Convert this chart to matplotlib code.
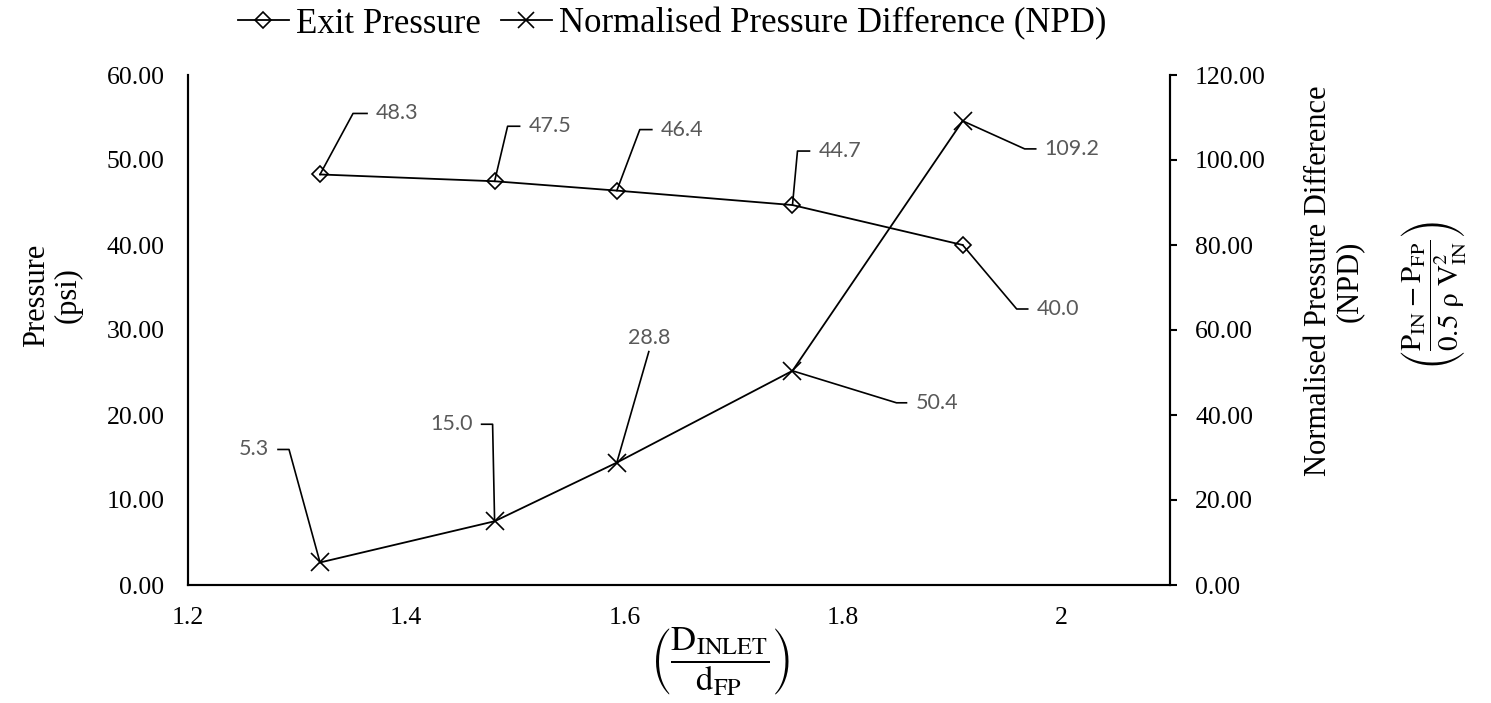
import numpy as np
import matplotlib
matplotlib.use("Agg")
import matplotlib.pyplot as plt
from matplotlib.transforms import ScaledTranslation
from matplotlib.ticker import FormatStrFormatter, FuncFormatter

plt.rcParams["font.family"] = ["Liberation Serif", "DejaVu Serif"]
plt.rcParams["mathtext.fontset"] = "stix"

# data
diameter_ratio = [1.321, 1.481, 1.593, 1.754, 1.910]
exit_pressure = [48.3, 47.5, 46.4, 44.7, 40.0]
npd = [5.3, 15.0, 28.8, 50.4, 109.2]

series_names = ["Exit Pressure", "Normalised Pressure Difference (NPD)"]
x_ticks = [1.2, 1.4, 1.6, 1.8, 2.0]
left_ticks = [0, 10, 20, 30, 40, 50, 60]
right_ticks = [0, 20, 40, 60, 80, 100, 120]

# leader line placement for each data label, in pixels: (dx, dy, tab)
exit_leaders = [(33, 61, 14), (13, 55, 12), (23, 61, 12), (5, 54, 12), (54, -64, 11)]
npd_leaders = [(-31, 113, -11), (-2, 97, -11), (32, 111, 0), (104, -32, 10), (62, -28, 11)]

W, H = 1491, 703
fig = plt.figure(figsize=(W / 100, H / 100), dpi=100)
ax = fig.add_axes([188 / W, (H - 585) / H, 982 / W, 510 / H])
ax2 = ax.twinx()

ax.set_xlim(1.2, 2.1)
ax.set_ylim(0, 60)
ax2.set_ylim(0, 120)

line_kw = dict(color="black", linewidth=1.3)
l1, = ax.plot(diameter_ratio, exit_pressure, marker="D", markersize=8.5,
              markerfacecolor="none", markeredgecolor="black", markeredgewidth=1.2,
              label=series_names[0], **line_kw)
l2, = ax2.plot(diameter_ratio, npd, marker="x", markersize=13,
               markeredgecolor="black", markeredgewidth=1.2,
               label=series_names[1], **line_kw)

for a in (ax, ax2):
    a.spines["top"].set_visible(False)
    for s in ("left", "right", "bottom"):
        a.spines[s].set_linewidth(1.5)

ax.set_xticks(x_ticks)
ax.xaxis.set_major_formatter(FuncFormatter(lambda v, p: f"{v:g}"))
ax.set_yticks(left_ticks)
ax.yaxis.set_major_formatter(FormatStrFormatter("%.2f"))
ax2.set_yticks(right_ticks)
ax2.yaxis.set_major_formatter(FormatStrFormatter("%.2f"))

ax.tick_params(axis="x", length=0, pad=16, labelsize=18.5)
ax.tick_params(axis="y", length=0, pad=17, labelsize=18.5)
ax2.tick_params(axis="y", length=5, width=1.5, direction="out", pad=13, labelsize=18.5)


def add_label(a, x, y, dx, dy, tab, text):
    tr = fig.dpi_scale_trans + ScaledTranslation(x, y, a.transData)
    k = 1 / fig.dpi
    a.plot([0, dx * k, (dx + tab) * k], [0, dy * k, dy * k], transform=tr,
           color="black", linewidth=1.2, clip_on=False, zorder=1)
    lab_kw = dict(transform=tr, fontsize=15.5, color="#595959", family="Lato")
    if tab > 0:
        a.text((dx + tab + 9) * k, dy * k, text, ha="left", va="center", **lab_kw)
    elif tab < 0:
        a.text((dx + tab - 9) * k, dy * k, text, ha="right", va="center", **lab_kw)
    else:
        a.text(dx * k, (dy + 4) * k, text, ha="center", va="bottom", **lab_kw)


for x, y, (dx, dy, tab) in zip(diameter_ratio, exit_pressure, exit_leaders):
    add_label(ax, x, y, dx, dy, tab, f"{y:.1f}")
for x, y, (dx, dy, tab) in zip(diameter_ratio, npd, npd_leaders):
    add_label(ax2, x, y, dx, dy, tab, f"{y:.1f}")

# axis titles
fig.text(52 / W, 1 - 295 / H, "Pressure\n(psi)", rotation=90, ha="center", va="center",
         fontsize=22, multialignment="center", linespacing=1.1)
fig.text(1334 / W, 1 - 281 / H, "Normalised Pressure Difference\n(NPD)", rotation=90,
         ha="center", va="center", fontsize=22, multialignment="center", linespacing=1.1)
fig.text(1433 / W, 1 - 296 / H,
         r"$\left(\dfrac{\mathrm{P_{IN} - P_{FP}}}{\mathrm{0.5\ \rho\ V_{IN}^{2}}}\right)$",
         rotation=90, ha="center", va="center", fontsize=21)
fig.text(720 / W, 1 - 662 / H,
         r"$\left(\dfrac{\mathrm{D_{INLET}}}{\mathrm{d_{FP}}}\right)$",
         ha="center", va="center", fontsize=25)

ax2.legend(handles=[l1, l2], loc="center", bbox_to_anchor=(0.493, 1.1), ncol=2,
           frameon=False, fontsize=25, handlelength=1.45, handletextpad=0.2,
           columnspacing=0.6, borderaxespad=0, markerscale=0.9)

fig.savefig("out.png", dpi=100)
